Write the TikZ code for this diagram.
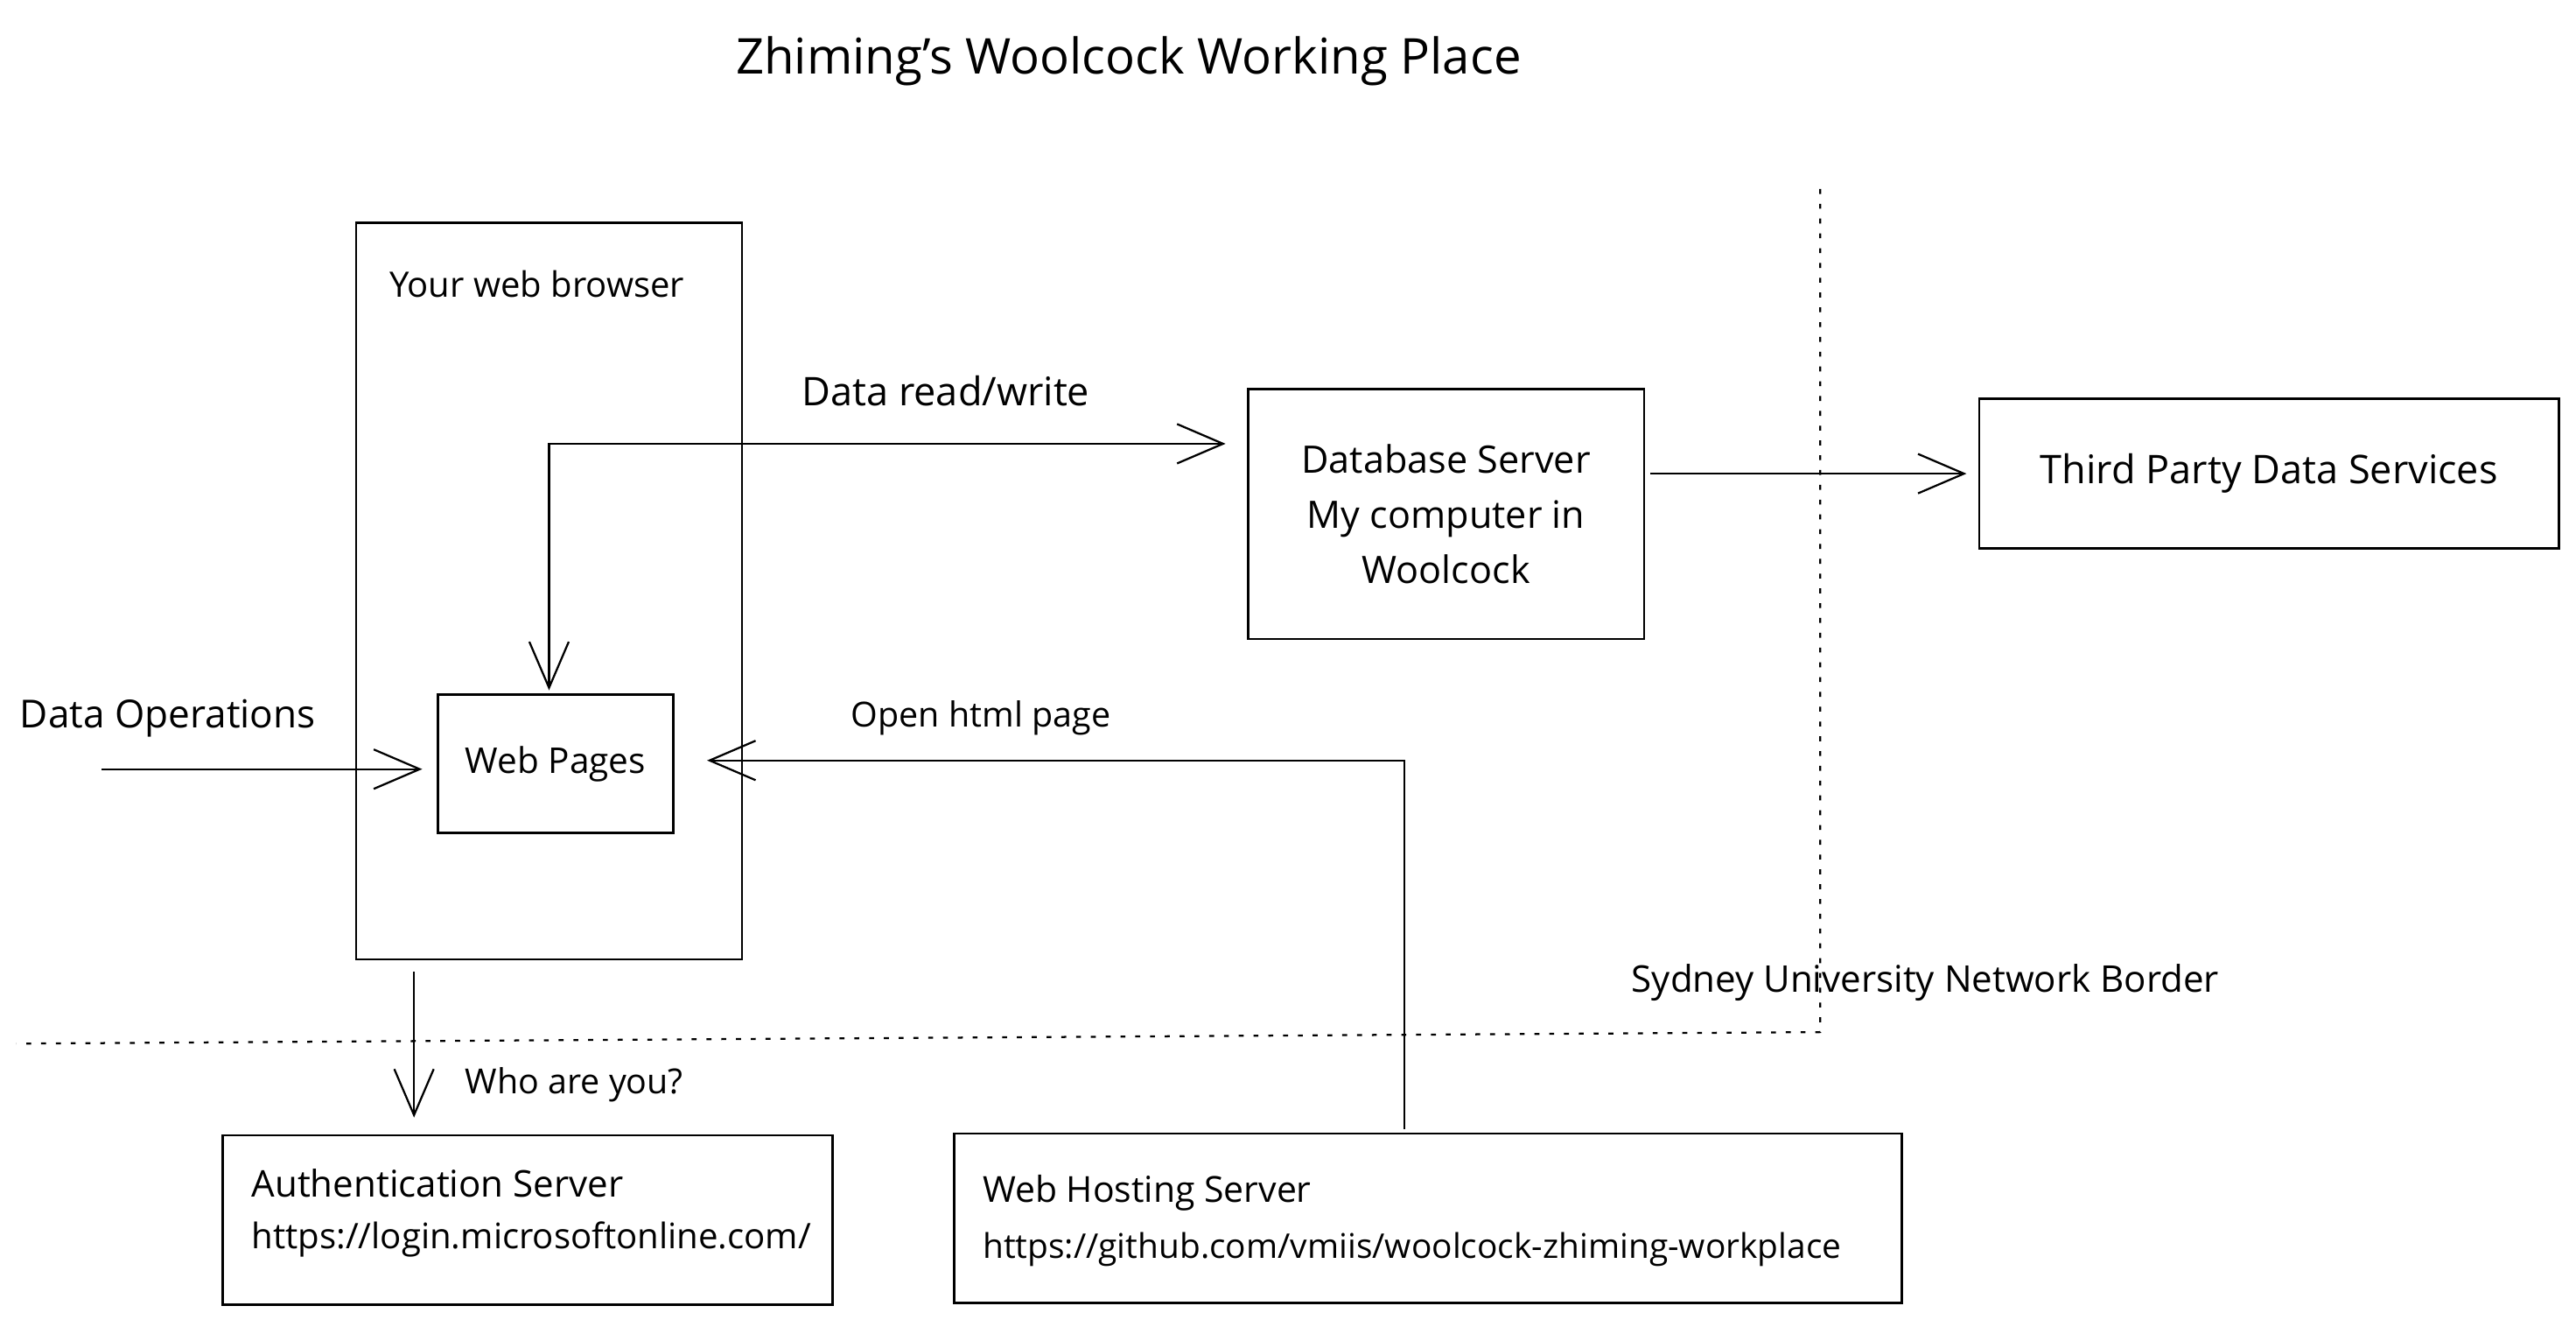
\documentclass[tikz,border=0pt]{standalone}
\usepackage{fontspec}
\setmainfont{Open Sans}
\usetikzlibrary{arrows.meta,calc}
\begin{document}
\begin{tikzpicture}[x=1pt,y=-1pt,
  box/.style={draw,line width=1.4pt,inner sep=0pt},
  fs/.style={font=\fontsize{#1}{#1}\selectfont},
  lbl/.style={inner sep=0pt},
  arr/.style={line width=1.2pt,-{Straight Barb[length=28pt,width=24pt,line width=1.2pt]}},
  arrboth/.style={line width=1.2pt,{Straight Barb[length=28pt,width=24pt,line width=1.2pt]}-{Straight Barb[length=28pt,width=24pt,line width=1.2pt]}},
  border/.style={line width=1.2pt,dash pattern=on 3pt off 6pt}]
\useasboundingbox (0,0) rectangle (1568,803);
\fill[white] (0,0) rectangle (1568,803);

% title
\node[fs=30,inner sep=0pt] (title) at (687,37) {Zhiming's Woolcock Working Place};

% browser
\node[box,anchor=north west,minimum width=235pt,minimum height=448pt] (browser) at (216,135) {};
\node[lbl,fs=21.3,anchor=west] (browserlbl) at (237,173) {Your web browser};
\node[box,fs=21.6,anchor=north west,minimum width=143pt,minimum height=84pt] (webpages) at (266,422) {Web Pages};

% database
\node[box,anchor=north west,minimum width=241pt,minimum height=152pt,align=center,font=\fontsize{23}{33.5}\selectfont] (db) at (759,236) {Database Server\\My computer in\\Woolcock};

% third party
\node[box,fs=24,anchor=north west,minimum width=353pt,minimum height=91pt] (third) at (1204,242) {Third Party Data Services};

% auth
\node[box,anchor=north west,minimum width=371pt,minimum height=103pt] (auth) at (135,690) {};
\node[lbl,fs=22.4,anchor=west] (authA) at (153,720) {Authentication Server};
\node[lbl,fs=21.4,anchor=west] (authB) at (153,754) {https://login.microsoftonline.com/};

% web hosting
\node[box,anchor=north west,minimum width=577pt,minimum height=103pt] (whs) at (580,689) {};
\node[lbl,fs=21.8,anchor=west] (whsA) at (598,726) {Web Hosting Server};
\node[lbl,fs=20.7,anchor=west] (whsB) at (598,760) {https://github.com/vmiis/woolcock-zhiming-workplace};

% labels
\node[lbl,fs=23.5,anchor=west] (dops) at (12,437) {Data Operations};
\node[lbl,fs=24,anchor=west] (drw) at (488,238) {Data read/write};
\node[lbl,fs=21,anchor=west] (ohp) at (518,437) {Open html page};
\node[lbl,fs=21,anchor=west] (who) at (283,660) {Who are you?};
\node[lbl,fs=22.4,anchor=west] (sydney) at (993,598) {Sydney University Network Border};

% border
\coordinate (bTop) at (1108,115);
\coordinate (bCorner) at (1108,628);
\coordinate (bLeft) at (10,635);
\draw[border] (bTop) -- (bCorner) -- (bLeft);

% connectors
\coordinate (dopsStart) at (62,468);
\draw[arr,shorten >=9pt] (dopsStart) -- (dopsStart -| webpages.west);

\coordinate (drwEnd) at (746,270);
\draw[arrboth,shorten >=2pt] (drwEnd) -| ([xshift=-4pt]webpages.north);

\draw[arr,shorten <=3pt,shorten >=7pt] (db.east |- third.west) -- (third.west);

\coordinate (authTop) at ($(auth.north west)+(117,0)$);
\draw[arr,shorten <=7pt,shorten >=10pt] (authTop |- browser.south) -- (authTop);

\coordinate (ohpStart) at ($(whs.north west)+(275,-2)$);
\draw[arr,shorten >=20pt] (ohpStart) |- ([yshift=2pt]webpages.east);
\end{tikzpicture}
\end{document}
